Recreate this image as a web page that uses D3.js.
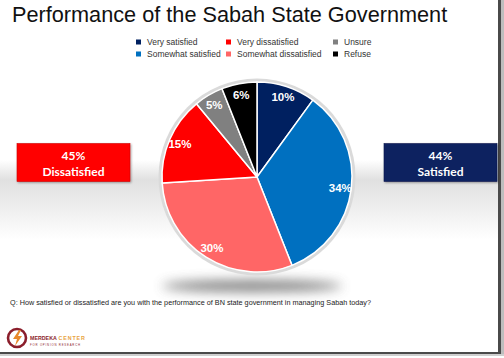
<!DOCTYPE html>
<html>
<head>
<meta charset="utf-8">
<script src="https://cdn.jsdelivr.net/npm/d3@7"></script>
<style>
  body { margin: 0; background: #fff; }
  svg { display: block; font-family: "Liberation Sans", Arial, sans-serif; }
</style>
</head>
<body>
<svg id="chart" width="504" height="358"></svg>
<script>
// data
const categories = ["Very satisfied", "Somewhat satisfied", "Somewhat dissatisfied", "Very dissatisfied", "Unsure", "Refuse"];
const values = [10, 34, 30, 15, 5, 6];
const colors = ["#002060", "#0070C0", "#FF6666", "#FF0000", "#808080", "#000000"];
// legend is laid out column by column
const legendOrder = ["Very satisfied", "Somewhat satisfied", "Very dissatisfied", "Somewhat dissatisfied", "Unsure", "Refuse"];
const summaryLabels = ["Dissatisfied", "Satisfied"];
const summaryValues = [45, 44];
const summaryColors = ["#FF0000", "#0D2160"];

const title = "Performance of the Sabah State Government";
const question = "Q: How satisfied or dissatisfied are you with the performance of BN state government in managing Sabah today?";

const svg = d3.select("#chart");
const defs = svg.append("defs");

// background band gradient
const band = defs.append("linearGradient")
  .attr("id", "band").attr("x1", "0%").attr("y1", "0%").attr("x2", "0%").attr("y2", "100%");
band.append("stop").attr("offset", "0%").attr("stop-color", "#ffffff");
band.append("stop").attr("offset", "25%").attr("stop-color", "#e0e0e0");
band.append("stop").attr("offset", "100%").attr("stop-color", "#ffffff");

const blur = defs.append("filter").attr("id", "blur")
  .attr("x", "-50%").attr("y", "-200%").attr("width", "200%").attr("height", "500%");
blur.append("feGaussianBlur").attr("stdDeviation", 6);

const shadow = defs.append("filter").attr("id", "boxShadow")
  .attr("x", "-10%").attr("y", "-10%").attr("width", "130%").attr("height", "140%");
shadow.append("feDropShadow").attr("dx", 1).attr("dy", 1).attr("stdDeviation", 1)
  .attr("flood-color", "#000").attr("flood-opacity", 0.35);

// slide
svg.append("rect").attr("x", 0).attr("y", 0).attr("width", 499).attr("height", 352).attr("fill", "#fff");
svg.append("rect").attr("x", 0).attr("y", 160).attr("width", 498).attr("height", 80).attr("fill", "url(#band)");

// frame shadow right and bottom
svg.append("rect").attr("x", 498).attr("y", 0).attr("width", 3).attr("height", 355).attr("fill", "#4a4a4a");
svg.append("rect").attr("x", 0).attr("y", 352).attr("width", 501).attr("height", 2).attr("fill", "#4a4a4a");
svg.append("rect").attr("x", 501).attr("y", 0).attr("width", 3).attr("height", 356).attr("fill", "#bdbdbd");
svg.append("rect").attr("x", 0).attr("y", 354).attr("width", 504).attr("height", 2).attr("fill", "#cfcfcf");

// title
svg.append("text")
  .attr("x", 12).attr("y", 22)
  .attr("font-size", 21.7)
  .attr("fill", "#111")
  .text(title);

// legend
const colX = [136, 226, 333];
const rowY = [42, 54];
const legend = svg.append("g").attr("font-size", 8.5).attr("fill", "#333");
legendOrder.forEach((name, i) => {
  const col = Math.floor(i / 2), row = i % 2;
  const g = legend.append("g").attr("transform", `translate(${colX[col]},${rowY[row]})`);
  g.append("rect").attr("x", 0).attr("y", -2.5).attr("width", 5).attr("height", 5)
    .attr("fill", colors[categories.indexOf(name)]);
  g.append("text").attr("x", 11).attr("y", 3).text(name);
});

// pie
const cx = 257, cy = 177, radius = 95;

svg.append("ellipse")
  .attr("cx", 252).attr("cy", 286).attr("rx", 90).attr("ry", 6)
  .attr("fill", "#666").attr("opacity", 0.8).attr("filter", "url(#blur)");

svg.append("circle").attr("cx", cx).attr("cy", cy).attr("r", radius + 3.5).attr("fill", "#dadada");

const pie = d3.pie().sort(null).value((d) => d);
const arc = d3.arc().innerRadius(0).outerRadius(radius);
const labelArc = d3.arc().innerRadius(84).outerRadius(84);

const pieG = svg.append("g").attr("transform", `translate(${cx},${cy})`);
const arcs = pie(values);

pieG.selectAll("path")
  .data(arcs)
  .enter()
  .append("path")
  .attr("d", arc)
  .attr("fill", (d, i) => colors[i])
  .attr("stroke", "#fff")
  .attr("stroke-width", 1.5)
  .attr("stroke-linejoin", "round");

pieG.selectAll("text")
  .data(arcs)
  .enter()
  .append("text")
  .attr("transform", (d) => `translate(${labelArc.centroid(d)})`)
  .attr("text-anchor", "middle")
  .attr("dy", "0.35em")
  .attr("font-size", 11.5)
  .attr("font-weight", "bold")
  .attr("fill", "#fff")
  .text((d) => d.data + "%");

// summary boxes
const boxX = [17, 384];
summaryLabels.forEach((label, i) => {
  const g = svg.append("g").attr("transform", `translate(${boxX[i]},143.5)`);
  g.append("rect").attr("width", 113).attr("height", 38)
    .attr("fill", summaryColors[i])
    .attr("stroke", d3.color(summaryColors[i]).darker(0.6))
    .attr("stroke-width", 0.6)
    .attr("filter", "url(#boxShadow)");
  g.append("text").attr("x", 56.5).attr("y", 16).attr("text-anchor", "middle")
    .attr("font-family", "Lato, 'Open Sans', sans-serif").attr("font-weight", "bold")
    .attr("font-size", 12).attr("fill", "#fff").text(summaryValues[i] + "%");
  g.append("text").attr("x", 56.5).attr("y", 32).attr("text-anchor", "middle")
    .attr("font-family", "Lato, 'Open Sans', sans-serif").attr("font-weight", "bold")
    .attr("font-size", 12).attr("fill", "#fff").text(label);
});

// question
svg.append("text")
  .attr("x", 10).attr("y", 305)
  .attr("font-size", 7)
  .attr("fill", "#222")
  .attr("textLength", 361)
  .attr("lengthAdjust", "spacingAndGlyphs")
  .text(question);

// logo
const logo = svg.append("g");
logo.append("circle").attr("cx", 17).attr("cy", 338).attr("r", 9)
  .attr("fill", "none").attr("stroke", "#8B1E2B").attr("stroke-width", 2.6);
logo.append("path")
  .attr("d", "M19,330 L13,339 L17,339 L15,346 L22,336 L18,336 L21,330 Z")
  .attr("fill", "#E8892B");
logo.append("text").attr("x", 30).attr("y", 340)
  .attr("font-size", 5.3).attr("font-weight", "bold").attr("fill", "#8B1E2B")
  .text("MERDEKA");
logo.append("text").attr("x", 58.5).attr("y", 340)
  .attr("font-size", 5.3).attr("font-weight", "bold").attr("fill", "#E8A23D")
  .attr("letter-spacing", 0.9).text("CENTER");
logo.append("text").attr("x", 30).attr("y", 346)
  .attr("font-size", 2.8).attr("fill", "#8B1E2B")
  .attr("letter-spacing", 0.8).text("FOR OPINION RESEARCH");
</script>
</body>
</html>
